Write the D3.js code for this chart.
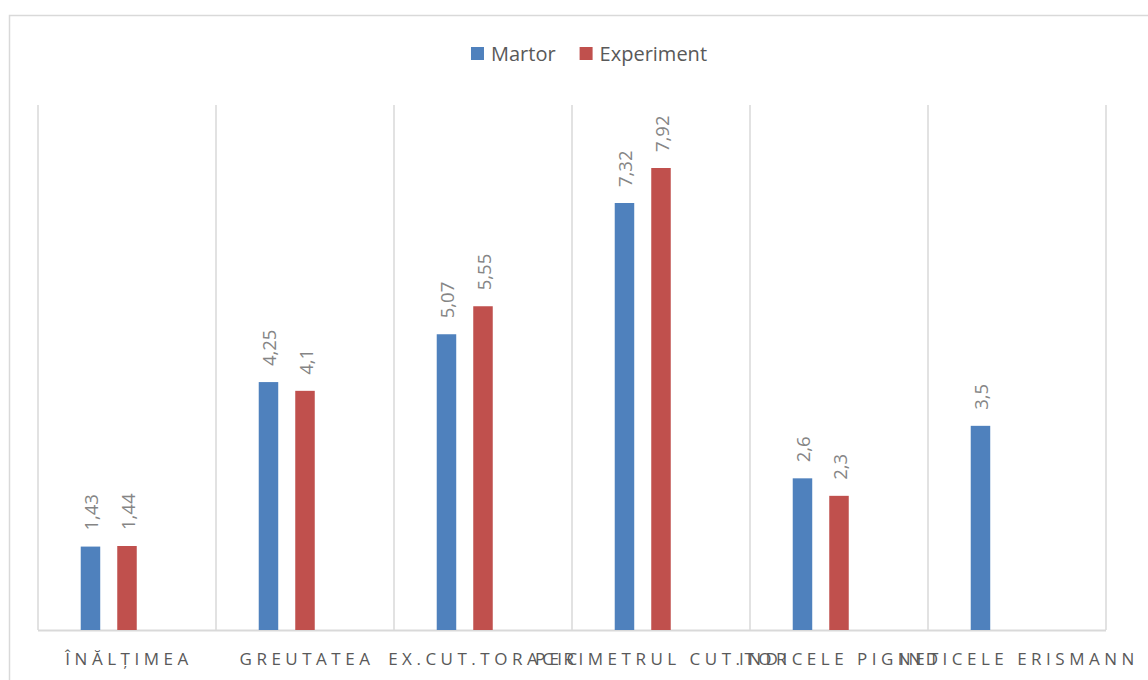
<!DOCTYPE html>
<html>
<head>
<meta charset="utf-8">
<script src="https://cdn.jsdelivr.net/npm/d3@7"></script>
<style>
  html, body { margin: 0; padding: 0; background: #fff; }
  svg { display: block; }
</style>
</head>
<body>
<svg id="chart" width="1148" height="680"></svg>
<script>
// Categories along the x axis
const categories = ["ÎNĂLȚIMEA", "GREUTATEA", "EX.CUT.TORACIC", "PERIMETRUL CUT.TOR", "INDICELE PIGNET", "INDICELE ERISMANN"];
// Series names and their values (null = no bar)
const seriesNames = ["Martor", "Experiment"];
const martor = [1.43, 4.25, 5.07, 7.32, 2.6, 3.5];
const experiment = [1.44, 4.1, 5.55, 7.92, 2.3, null];
const seriesColors = ["#4f81bd", "#c0504d"];

const svg = d3.select("#chart");

// Chart area frame
svg.append("rect")
  .attr("x", 9.5).attr("y", 15.5)
  .attr("width", 1200).attr("height", 700)
  .attr("fill", "#fff").attr("stroke", "#d9d9d9").attr("stroke-width", 1.5);

const plot = { left: 38, right: 1106, top: 105, bottom: 630 };

const x0 = d3.scaleBand().domain(categories).range([plot.left, plot.right]).padding(0);
// Each category reserves three bar slots; only the first two carry data
const x1 = d3.scaleBand().domain(d3.range(3)).range([0, x0.bandwidth()])
  .paddingInner(0.466).paddingOuter(1.17);
const y = d3.scaleLinear().domain([0, 9]).range([plot.bottom, plot.top]);

// Vertical gridlines at category boundaries
const gridXs = categories.map(c => x0(c)).concat([plot.right]);
svg.append("g").selectAll("line").data(gridXs).join("line")
  .attr("x1", d => d).attr("x2", d => d)
  .attr("y1", plot.top).attr("y2", plot.bottom)
  .attr("stroke", "#d9d9d9").attr("stroke-width", 1.5);

// Category axis line
svg.append("line")
  .attr("x1", plot.left).attr("x2", plot.right)
  .attr("y1", plot.bottom + 0.5).attr("y2", plot.bottom + 0.5)
  .attr("stroke", "#d9d9d9").attr("stroke-width", 2);

const allSeries = [martor, experiment];
const bars = [];
allSeries.forEach((vals, si) => {
  vals.forEach((v, ci) => {
    if (v !== null && v !== undefined) bars.push({ si, cat: categories[ci], v });
  });
});

const gBars = svg.append("g");
gBars.selectAll("rect").data(bars).join("rect")
  .attr("x", d => x0(d.cat) + x1(d.si))
  .attr("y", d => y(d.v))
  .attr("width", x1.bandwidth())
  .attr("height", d => y(0) - y(d.v))
  .attr("fill", d => seriesColors[d.si]);

// Rotated value labels above each bar
const fmt = v => String(v).replace(".", ",");
gBars.selectAll("text").data(bars).join("text")
  .attr("transform", d => {
    const cx = x0(d.cat) + x1(d.si) + x1.bandwidth() / 2 + 1.5;
    return `translate(${cx},${y(d.v) - 16}) rotate(-90)`;
  })
  .attr("dy", "0.35em")
  .attr("text-anchor", "start")
  .attr("font-family", "'Open Sans', sans-serif")
  .attr("font-size", 18.5)
  .attr("fill", "#858585")
  .text(d => fmt(d.v));

// Category labels (spaced capitals, long ones run into their neighbours)
svg.append("g").selectAll("text").data(categories).join("text")
  .attr("x", d => x0(d) + x0.bandwidth() / 2 + 2)
  .attr("y", 665)
  .attr("text-anchor", "middle")
  .attr("font-family", "'Open Sans', sans-serif")
  .attr("font-size", 17)
  .attr("letter-spacing", 4.5)
  .attr("fill", "#595959")
  .text(d => d);

// Legend, centered above the plot
const legend = svg.append("g");
const items = legend.selectAll("g").data(seriesNames).join("g");
items.append("rect")
  .attr("width", 13).attr("height", 13)
  .attr("y", 47)
  .attr("fill", (d, i) => seriesColors[i]);
items.append("text")
  .attr("x", 20).attr("y", 61)
  .attr("font-family", "'Open Sans', sans-serif")
  .attr("font-size", 20)
  .attr("fill", "#595959")
  .text(d => d);
const gap = 24;
const widths = [];
items.each(function () {
  widths.push(20 + d3.select(this).select("text").node().getComputedTextLength());
});
const total = d3.sum(widths) + gap * (widths.length - 1);
let cursor = 589 - total / 2;
items.attr("transform", (d, i) => {
  const t = `translate(${cursor},0)`;
  cursor += widths[i] + gap;
  return t;
});
</script>
</body>
</html>
